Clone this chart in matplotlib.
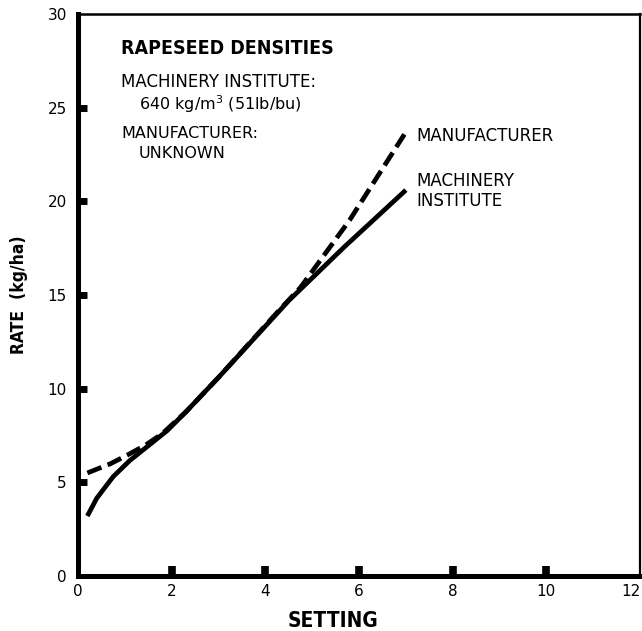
import matplotlib
matplotlib.use("Agg")
import matplotlib.pyplot as plt

# values
setting_mi = [0.2, 0.4, 0.75, 1.1, 1.5, 1.9, 2.3, 3.0, 4.5, 5.7, 7.0]
rate_mi = [3.2, 4.15, 5.3, 6.15, 6.95, 7.75, 8.75, 10.6, 14.7, 17.6, 20.6]

setting_mfr = [0.2, 0.7, 1.05, 1.45, 1.8, 2.3, 3.0, 4.3, 4.75, 5.8, 7.0]
rate_mfr = [5.5, 6.0, 6.45, 7.0, 7.6, 8.75, 10.6, 14.2, 15.4, 19.0, 23.7]

x_ticks = [0, 2, 4, 6, 8, 10, 12]
y_ticks = [0, 5, 10, 15, 20, 25, 30]

plt.rcParams['font.family'] = ['DejaVu Sans']

fig = plt.figure(figsize=(6.42, 6.31), dpi=100)
ax = fig.add_axes([0.1215, 0.0872, 0.8755, 0.8906])

ax.plot(setting_mi, rate_mi, color='black', lw=3.4, solid_capstyle='butt',
        solid_joinstyle='round')
ax.plot(setting_mfr, rate_mfr, color='black', lw=3.4, dashes=(3.2, 1.4),
        dash_capstyle='butt')

ax.set_xlim(0, 12)
ax.set_ylim(0, 30)
ax.set_xticks(x_ticks)
ax.set_yticks(y_ticks)
ax.tick_params(axis='both', direction='in', labelsize=11, color='black')
ax.tick_params(axis='x', length=7.5, width=5.5, pad=6)
ax.tick_params(axis='y', length=6.5, width=5.0, pad=8)

# no marks at the ends of the axes
for ticks in (ax.xaxis.get_major_ticks(), ax.yaxis.get_major_ticks()):
    for t in (ticks[0], ticks[-1]):
        t.tick1line.set_visible(False)
ax.xaxis.get_major_ticks()[-1].label1.set_horizontalalignment('right')

ax.spines['left'].set_linewidth(3.6)
ax.spines['bottom'].set_linewidth(3.6)
ax.spines['top'].set_linewidth(1.8)
ax.spines['right'].set_linewidth(1.6)

lbl = dict(fontweight='bold', fontstretch='condensed', family='DejaVu Sans')
ax.set_xlabel('SETTING', fontsize=15, **lbl)
ax.xaxis.set_label_coords(0.454, -0.063)
ax.set_ylabel('RATE  (kg/ha)', fontsize=12.5, labelpad=14, **lbl)

ax.text(0.0765, 0.9395, 'RAPESEED DENSITIES', transform=ax.transAxes,
        fontsize=14, va='center', **lbl)
ax.text(0.0765, 0.879, 'MACHINERY INSTITUTE:', transform=ax.transAxes,
        fontsize=12, va='center')
ax.text(0.1085, 0.840, '640 kg/m$^3$ (51lb/bu)', transform=ax.transAxes,
        fontsize=11.5, va='center')
ax.text(0.0765, 0.788, 'MANUFACTURER:', transform=ax.transAxes,
        fontsize=11.5, va='center')
ax.text(0.1085, 0.751, 'UNKNOWN', transform=ax.transAxes,
        fontsize=11.5, va='center')

ax.text(7.22, 23.5, 'MANUFACTURER', fontsize=12, va='center')
ax.text(7.22, 20.55, 'MACHINERY\nINSTITUTE', fontsize=12, va='center',
        linespacing=1.1)

fig.savefig('out.png', dpi=100)
